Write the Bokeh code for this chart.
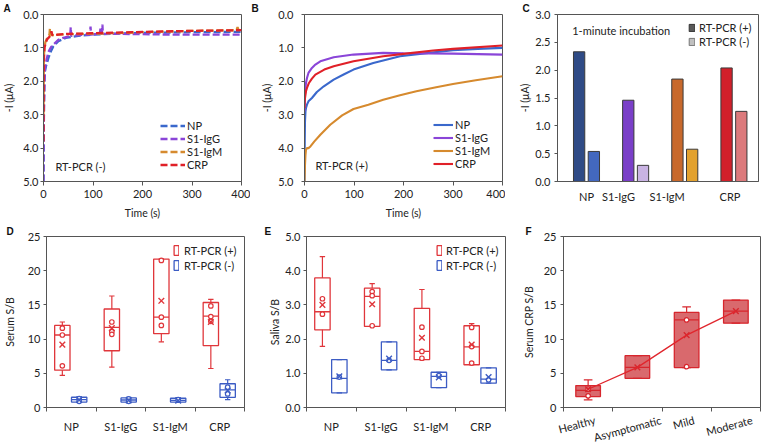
from bokeh.plotting import figure
from bokeh.layouts import row, column
from bokeh.models import Range1d, FixedTicker, PrintfTickFormatter, Legend, LegendItem, Label
from bokeh.embed import file_html
from bokeh.resources import INLINE

FONT = "Lato"
TXT = "#222222"
AX = "#555555"
NAN = float("nan")

# ---------------- data ----------------
series_names = ["NP", "S1-IgG", "S1-IgM", "CRP"]
series_colors = ["#3A68CC", "#8A45D8", "#D68A2E", "#E02028"]

iv_y_ticks = [0, 1, 2, 3, 4, 5]
time_ticks = [0, 100, 200, 300, 400]

# Panel A: RT-PCR (-), -I (uA) vs time (s)
a_np_t = [0, 0.5, 1, 2, 3, 5, 7, 10, 15, 20, 30, 45, 70, 100, 150, 200, 300, 400]
a_np = [5.0, 3.8, 2.8, 2.0, 1.7, 1.55, 1.45, 1.3, 1.1, 0.95, 0.8, 0.7, 0.64, 0.6, 0.57, 0.55, 0.53, 0.52]
a_igg_t = [0, 0.5, 1, 2, 3, 5, 7, 10, 15, 20, 30, 40, 50, 54, 55, 56, 70, 90, 94, 95, 96, 110, 114,
           115, 116, 118, 119, 120, 150, 200, 250, 300, 350, 400]
a_igg = [5.0, 3.6, 2.6, 1.9, 1.6, 1.45, 1.3, 1.12, 0.98, 0.9, 0.76, 0.7, 0.66, 0.65, 0.38, 0.64, 0.62,
         0.6, 0.6, 0.36, 0.6, 0.58, 0.58, 0.42, 0.58, 0.58, 0.3, 0.58, 0.58, 0.59, 0.6, 0.6, 0.6, 0.6]
a_igm_t = [0, 0.5, 1, 2, 4, 7, 10, 12, 13, 14, 17, 20, 30, 50, 80, 120, 200, 300, 390, 392, 394, 400]
a_igm = [3.0, 1.8, 1.2, 0.95, 0.82, 0.72, 0.65, 0.6, 0.42, 0.6, 0.62, 0.62, 0.6, 0.59, 0.58, 0.57,
         0.53, 0.49, 0.47, 0.38, 0.47, 0.46]
a_crp_t = [0, 0.5, 1, 2, 4, 7, 10, 15, 16, 18, 20, 30, 50, 80, 120, 200, 300, 400]
a_crp = [3.8, 2.0, 1.3, 1.0, 0.88, 0.75, 0.7, 0.62, 0.5, 0.62, 0.62, 0.6, 0.58, 0.57, 0.55, 0.52, 0.49, 0.47]

# Panel B: RT-PCR (+)
b_np_t = [0, 0.5, 1, 2, 3, 5, 8, 15, 25, 39, 59, 80, 99, 139, 193, 233, 300, 350, 400]
b_np = [5.0, 3.8, 3.2, 2.9, 2.8, 2.7, 2.6, 2.5, 2.32, 2.15, 1.95, 1.79, 1.65, 1.45, 1.25, 1.18, 1.07, 1.03, 1.0]
b_igg_t = [0, 0.5, 1, 2, 3, 5, 8, 15, 22, 32, 59, 99, 159, 200, 300, 400]
b_igg = [2.9, 2.6, 2.4, 2.2, 2.05, 1.9, 1.75, 1.6, 1.5, 1.4, 1.28, 1.2, 1.15, 1.16, 1.17, 1.2]
b_igm_t = [0, 1, 2, 3, 5, 8, 12, 20, 32, 52, 76, 99, 129, 159, 193, 226, 266, 300, 346, 400]
b_igm = [5.0, 4.5, 4.2, 4.05, 4.0, 4.0, 3.95, 3.8, 3.6, 3.3, 3.02, 2.83, 2.7, 2.55, 2.42, 2.3, 2.18,
         2.08, 1.97, 1.85]
b_crp_t = [0, 0.5, 1, 2, 3, 5, 9, 15, 22, 40, 59, 99, 159, 200, 260, 300, 400]
b_crp = [2.8, 2.6, 2.5, 2.4, 2.3, 2.2, 2.05, 1.92, 1.8, 1.65, 1.55, 1.4, 1.25, 1.18, 1.08, 1.03, 0.93]

# Panel C: 1-minute incubation bars
c_cats = ["NP", "S1-IgG", "S1-IgM", "CRP"]
c_pos = [2.33, 1.46, 1.84, 2.04]
c_neg = [0.54, 0.29, 0.58, 1.26]
c_pos_colors = ["#2F4B86", "#7A3FC8", "#C8692C", "#D2202A"]
c_neg_colors = ["#4368BF", "#C9B3E3", "#E2A12E", "#DC7A7C"]
c_y_ticks = [0, 0.5, 1.0, 1.5, 2.0, 2.5, 3.0]
# where the category labels sit under the bar pairs (as in the original)
c_label_anchor = [0.0, 0.65, 1.64, 2.92]

# Panel D: Serum S/B box plots
de_cats = ["NP", "S1-IgG", "S1-IgM", "CRP"]
d_y_ticks = [0, 5, 10, 15, 20, 25]
d_pos_min = [4.7, 5.9, 9.6, 5.7]
d_pos_q1 = [5.45, 8.3, 10.8, 9.06]
d_pos_med = [10.6, 11.7, 13.2, 13.37]
d_pos_q3 = [12.0, 14.4, 21.7, 15.35]
d_pos_max = [12.5, 16.3, 21.7, 15.8]
d_pos_mean = [9.2, 11.6, 15.6, 12.5]
d_pos_pts = [[11.6, 10.6, 6.1], [12.5, 11.1, 10.7], [21.5, 13.2, 12.0], [14.85, 13.3, 12.6]]
d_neg_min = [0.75, 0.75, 0.75, 1.14]
d_neg_q1 = [0.8, 0.8, 0.8, 1.49]
d_neg_med = [1.15, 1.1, 1.05, 2.57]
d_neg_q3 = [1.5, 1.4, 1.35, 3.47]
d_neg_max = [1.6, 1.5, 1.45, 4.06]
d_neg_mean = [1.1, 1.05, 1.0, 2.48]
d_neg_pts = [[1.3, 0.9], [1.25, 0.9], [1.15], [2.97, 1.98]]

# Panel E: Saliva S/B box plots
e_y_ticks = [0, 1, 2, 3, 4, 5]
e_pos_min = [1.79, 2.37, 1.4, 1.25]
e_pos_q1 = [2.27, 2.37, 1.4, 1.25]
e_pos_med = [2.8, 3.25, 1.64, 1.77]
e_pos_q3 = [3.79, 3.49, 2.9, 2.39]
e_pos_max = [4.41, 3.62, 3.45, 2.45]
e_pos_mean = [3.0, 3.02, 2.04, 1.84]
e_pos_pts = [[3.18, 2.73], [3.39, 3.27, 2.39], [2.35, 1.64, 1.44], [2.34, 1.78, 1.3]]
e_neg_min = [0.43, 1.1, 0.58, 0.71]
e_neg_q1 = [0.43, 1.1, 0.58, 0.71]
e_neg_med = [0.85, 1.38, 0.91, 0.83]
e_neg_q3 = [1.4, 1.92, 1.03, 1.16]
e_neg_max = [1.4, 1.92, 1.03, 1.16]
e_neg_mean = [0.91, 1.43, 0.88, 0.89]
e_neg_pts = [[0.89], [1.38], [0.93], [0.81]]

# Panel F: Serum CRP S/B by severity
f_cats = ["Healthy", "Asymptomatic", "Mild", "Moderate"]
f_y_ticks = [0, 5, 10, 15, 20, 25]
f_min = [1.12, 4.27, 5.83, 12.33]
f_q1 = [1.6, 4.27, 5.83, 12.33]
f_med = [2.5, 5.87, 12.8, 14.08]
f_q3 = [3.2, 7.57, 13.9, 15.7]
f_max = [4.03, 7.57, 14.7, 15.7]
f_mean = [2.67, 5.87, 10.58, 14.08]
f_pts = [[2.67, 1.7], [], [12.8, 5.97], []]
# anchor points of the rotated (right-aligned) category labels, so each label is centred on its box
f_label_anchor = [0.14, 1.48, 2.15, 3.33]

RED = "#E0363B"
BLUE = "#3C5CC4"


# ---------------- helpers ----------------
def make_fig(bl, br, bt, bb, fw, fh, xr, yr, letter, letter_offset, letter_standoff):
    p = figure(frame_width=fw, frame_height=fh, x_range=xr, y_range=yr,
               min_border_left=bl, min_border_right=br, min_border_top=bt, min_border_bottom=bb,
               output_backend="svg", toolbar_location=None)
    p.title.text = letter
    p.title.align = "left"
    p.title.offset = letter_offset
    p.title.standoff = letter_standoff
    p.title.text_font = "Liberation Sans"
    p.title.text_font_size = "10px"
    p.title.text_font_style = "bold"
    p.title.text_color = "#111111"
    p.grid.visible = False
    p.outline_line_color = AX
    p.outline_line_width = 1
    p.outline_line_alpha = 1
    p.background_fill_color = "white"
    p.border_fill_color = "white"
    for ax in p.axis:
        ax.axis_line_color = AX
        ax.major_tick_line_color = AX
        ax.minor_tick_line_color = AX
        ax.major_tick_in = 0
        ax.major_tick_out = 3
        ax.minor_tick_in = 0
        ax.minor_tick_out = 0
        ax.major_label_text_font = FONT
        ax.major_label_text_font_size = "11px"
        ax.major_label_text_color = TXT
        ax.axis_label_text_font = FONT
        ax.axis_label_text_font_size = "10.5px"
        ax.axis_label_text_font_style = "normal"
        ax.axis_label_text_color = TXT
    return p


def y_axis(p, ticks, fmt, label, standoff, label_standoff):
    ax = p.yaxis[0]
    ax.ticker = FixedTicker(ticks=ticks)
    if fmt:
        ax.formatter = PrintfTickFormatter(format=fmt)
    ax.axis_label = label
    ax.major_label_standoff = standoff
    ax.axis_label_standoff = label_standoff


def cat_x_axis(p, cats, anchors=None, minor=True, standoff=8):
    ax = p.xaxis[0]
    n = len(cats)
    pos = anchors if anchors is not None else list(range(n))
    ax.ticker = FixedTicker(ticks=pos,
                            minor_ticks=[i - 0.5 for i in range(n + 1)] if minor else [])
    ax.major_label_overrides = {x: c for x, c in zip(pos, cats)}
    ax.major_tick_out = 0
    ax.minor_tick_out = 4 if minor else 0
    ax.major_label_standoff = standoff


def time_x_axis(p):
    ax = p.xaxis[0]
    ax.ticker = FixedTicker(ticks=time_ticks)
    ax.axis_label = "Time (s)"
    ax.major_tick_out = 4
    ax.major_label_standoff = 4
    ax.axis_label_standoff = 6


def add_legend(p, items, x, y, gw, gh, lh, spacing=0, standoff=3):
    lg = Legend(items=items, location=(x, y), orientation="vertical", padding=0, margin=0,
                spacing=spacing, glyph_width=gw, glyph_height=gh, label_height=lh,
                label_standoff=standoff, label_text_font=FONT, label_text_font_size="11px",
                label_text_color=TXT, background_fill_alpha=0, border_line_alpha=0)
    p.add_layout(lg)


def text_label(p, txt, x, y):
    p.add_layout(Label(x=x, y=y, text=txt, text_font=FONT, text_font_size="11px",
                       text_color=TXT, text_baseline="middle", text_align="left"))


def boxes(p, xs, w, q1, med, q3, lo, hi, mean, pts, color, fill=None):
    r = p.vbar(x=xs, width=w, bottom=q1, top=q3, fill_color=fill if fill else "white",
               fill_alpha=1 if fill else 0, line_color=color, line_width=1.3)
    p.segment(x0=[x - w / 2 for x in xs], x1=[x + w / 2 for x in xs], y0=med, y1=med,
              line_color=color, line_width=1.3)
    p.segment(x0=xs, x1=xs, y0=q3, y1=hi, line_color=color, line_width=1.2)
    p.segment(x0=xs, x1=xs, y0=q1, y1=lo, line_color=color, line_width=1.2)
    cap = w * 0.35
    p.segment(x0=[x - cap / 2 for x in xs], x1=[x + cap / 2 for x in xs], y0=hi, y1=hi,
              line_color=color, line_width=1.2)
    p.segment(x0=[x - cap / 2 for x in xs], x1=[x + cap / 2 for x in xs], y0=lo, y1=lo,
              line_color=color, line_width=1.2)
    px, py = [], []
    for x, vals in zip(xs, pts):
        for v in vals:
            px.append(x)
            py.append(v)
    p.scatter(px, py, marker="circle", size=4.5, fill_color="white", line_color=color, line_width=1.2)
    p.scatter(xs, mean, marker="x", size=8, line_color=color, line_width=1.4)
    return r


# ---------------- row 1 ----------------
FH1 = 167
BT1, BB1 = 13, 42
# A
pA = make_fig(43, 9, BT1, BB1, 198, FH1, Range1d(0, 400), Range1d(5, 0), "A", -40, 1)
itemsA = []
for name, t, v, c in zip(series_names, [a_np_t, a_igg_t, a_igm_t, a_crp_t],
                         [a_np, a_igg, a_igm, a_crp], series_colors):
    r = pA.line(t, v, line_color=c, line_width=2.3, line_dash="7 3")
    itemsA.append(LegendItem(label=name, renderers=[r]))
time_x_axis(pA)
y_axis(pA, iv_y_ticks, "%.1f", "-I (μA)", 2, 5)
add_legend(pA, itemsA, 117, 10, 25, 13, 13, 0, 2)
text_label(pA, "RT-PCR (-)", 24, 4.55)

# B
pB = make_fig(54, 3, BT1, BB1, 198, FH1, Range1d(0, 400), Range1d(5, 0), "B", -53, 1)
itemsB = []
for name, t, v, c in zip(series_names, [b_np_t, b_igg_t, b_igm_t, b_crp_t],
                         [b_np, b_igg, b_igm, b_crp], series_colors):
    r = pB.line(t, v, line_color=c, line_width=2.1)
    itemsB.append(LegendItem(label=name, renderers=[r]))
time_x_axis(pB)
y_axis(pB, iv_y_ticks, "%.1f", "-I (μA)", 8, 2)
add_legend(pB, itemsB, 129, 11, 20, 13, 13, 0, 2)
text_label(pB, "RT-PCR (+)", 22, 4.52)

# C
pC = make_fig(52, 2, BT1, BB1, 201, FH1, Range1d(-0.59, 3.5), Range1d(0, 3), "C", -35, 1)
xpos = [i - 0.15 for i in range(len(c_cats))]
xneg = [i + 0.15 for i in range(len(c_cats))]
pC.vbar(x=xpos, top=c_pos, width=0.23, fill_color=c_pos_colors, line_color="#3a3a3a", line_width=1)
pC.vbar(x=xneg, top=c_neg, width=0.23, fill_color=c_neg_colors, line_color="#3a3a3a", line_width=1)
# legend swatches (no visible data)
lp = pC.vbar(x=[NAN], top=[NAN], width=0.2, fill_color="#595959", line_color="#333333", line_width=1)
ln = pC.vbar(x=[NAN], top=[NAN], width=0.2, fill_color="#C0C0C0", line_color="#777777", line_width=1)
cat_x_axis(pC, c_cats, anchors=c_label_anchor, minor=False, standoff=8)
y_axis(pC, c_y_ticks, "%.1f", "-I (μA)", 4, 1)
add_legend(pC, [LegendItem(label="RT-PCR (+)", renderers=[lp]),
                LegendItem(label="RT-PCR (-)", renderers=[ln])], 131, 133, 7, 9, 14, 0, 4)
pC.add_layout(Label(x=-0.29, y=2.71, text="1-minute incubation", text_font=FONT,
                    text_font_size="11px", text_color=TXT, text_baseline="middle"))

# ---------------- row 2 ----------------
FH2 = 171
BT2, BB2 = 12, 39
# D
pD = make_fig(43, 9, BT2, BB2, 198, FH2, Range1d(-0.5, 3.5), Range1d(0, 25), "D", -40, 0)
xr = [i - 0.18 for i in range(len(de_cats))]
xb = [i + 0.16 for i in range(len(de_cats))]
rdp = boxes(pD, xr, 0.31, d_pos_q1, d_pos_med, d_pos_q3, d_pos_min, d_pos_max, d_pos_mean, d_pos_pts, RED)
rdn = boxes(pD, xb, 0.31, d_neg_q1, d_neg_med, d_neg_q3, d_neg_min, d_neg_max, d_neg_mean, d_neg_pts, BLUE)
cat_x_axis(pD, de_cats)
y_axis(pD, d_y_ticks, None, "Serum S/B", 3, 9)
add_legend(pD, [LegendItem(label="RT-PCR (+)", renderers=[rdp]),
                LegendItem(label="RT-PCR (-)", renderers=[rdn])], 127, 135, 6, 12, 14, 1, 5)

# E
pE = make_fig(53, 3, BT2, BB2, 199, FH2, Range1d(-0.5, 3.5), Range1d(0, 5), "E", -42, 0)
rep = boxes(pE, xr, 0.31, e_pos_q1, e_pos_med, e_pos_q3, e_pos_min, e_pos_max, e_pos_mean, e_pos_pts, RED)
ren = boxes(pE, xb, 0.31, e_neg_q1, e_neg_med, e_neg_q3, e_neg_min, e_neg_max, e_neg_mean, e_neg_pts, BLUE)
cat_x_axis(pE, de_cats)
y_axis(pE, e_y_ticks, "%.1f", "Saliva S/B", 3, 1)
add_legend(pE, [LegendItem(label="RT-PCR (+)", renderers=[rep]),
                LegendItem(label="RT-PCR (-)", renderers=[ren])], 130, 135, 6, 12, 14, 1, 4)

# F
pF = make_fig(55, 3, BT2, BB2, 197, FH2, Range1d(-0.5, 3.5), Range1d(0, 25), "F", -38, 0)
xf = list(range(len(f_cats)))
boxes(pF, xf, 0.5, f_q1, f_med, f_q3, f_min, f_max, f_mean, f_pts, "#D7262D", fill="#D9696D")
pF.line(xf, f_mean, line_color="#E0262D", line_width=1.3)
cat_x_axis(pF, f_cats, anchors=f_label_anchor, standoff=8)
pF.xaxis.major_label_orientation = 0.26
y_axis(pF, f_y_ticks, None, "Serum CRP S/B", 4, 6)

layout = column(row(pA, pB, pC), row(pD, pE, pF))
open("out.html", "w").write(file_html(layout, INLINE))
